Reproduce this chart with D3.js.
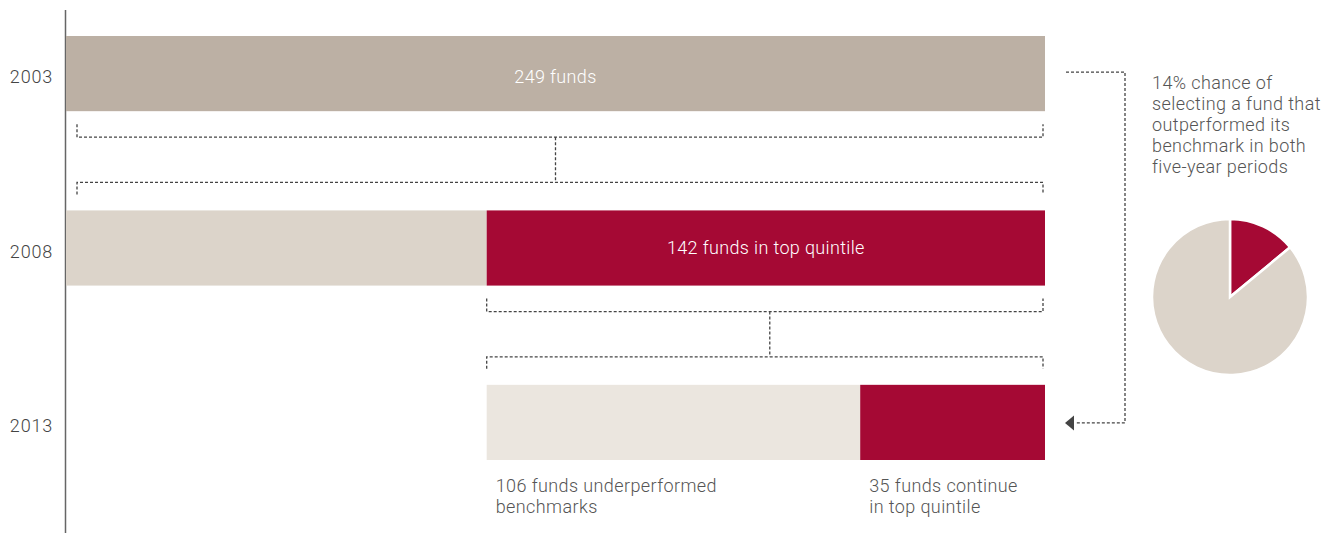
<!doctype html>
<html lang="en">
<head>
<meta charset="UTF-8">
<title>Funds persistence in top quintile</title>
<script src="https://d3js.org/d3.v7.min.js"></script>
<style>
body { margin: 0; background: #fff; font-family: "Roboto", "Helvetica Neue", sans-serif; font-weight: 300; }
svg { display: block; }
.year { font-size: 18px; fill: #444; letter-spacing: 0.8px; }
.note { font-size: 18px; fill: #555; letter-spacing: 0.4px; }
.barlabel { font-size: 18px; fill: #fff; letter-spacing: 0.35px; }
.dots { fill: none; stroke: #444; stroke-width: 1.3; stroke-dasharray: 3 2; }
</style>
</head>
<body>
<div id="plot"></div>
<script>

var width = 1323;
var height = 533;

// data, in fund units along the bar axis
var years = ["2003", "2008", "2013"];
var segYear = ["2003", "2008", "2008", "2013", "2013"];
var segStart = [0, 0, 107, 107, 202];
var segEnd = [249, 107, 249, 202, 249];
var segColor = ["#bcb0a4", "#dcd4ca", "#a50934", "#ebe6df", "#a50934"];
var segText = ["249 funds", "", "142 funds in top quintile", "", ""];

var belowText = [["106 funds underperformed", "benchmarks"], ["35 funds continue", "in top quintile"]];
var belowStart = [107, 202];

var noteLines = ["14% chance of", "selecting a fund that", "outperformed its", "benchmark in both", "five-year periods"];
var pieValues = [14, 86];
var pieColors = ["#a50934", "#dcd4ca"];

var svg = d3.select("#plot").append("svg")
  .attr("width", width)
  .attr("height", height);

var x = d3.scaleLinear().domain([0, 249]).range([66, 1045]);
var y = d3.scaleBand().domain(years).range([36, 460]).paddingInner(0.569).paddingOuter(0);

// axis line
svg.append("line")
  .attr("x1", 65.5).attr("x2", 65.5)
  .attr("y1", 10).attr("y2", height)
  .style("stroke", "#666").style("stroke-width", 1.5);

svg.selectAll("text.year")
  .data(years)
  .enter().append("text")
  .attr("class", "year")
  .attr("x", 53)
  .attr("y", function (d) { return y(d) + y.bandwidth() / 2 + 3.5; })
  .attr("dy", "0.35em")
  .attr("text-anchor", "end")
  .text(function (d) { return d; });

var segs = segYear.map(function (d, i) {
  return { year: d, start: segStart[i], end: segEnd[i], color: segColor[i], text: segText[i] };
});

svg.selectAll("rect.seg")
  .data(segs)
  .enter().append("rect")
  .attr("class", "seg")
  .attr("x", function (d) { return x(d.start); })
  .attr("y", function (d) { return y(d.year); })
  .attr("width", function (d) { return x(d.end) - x(d.start); })
  .attr("height", y.bandwidth())
  .style("fill", function (d) { return d.color; });

svg.selectAll("text.barlabel")
  .data(segs.filter(function (d) { return d.text; }))
  .enter().append("text")
  .attr("class", "barlabel")
  .attr("x", function (d) { return (x(d.start) + x(d.end)) / 2; })
  .attr("y", function (d, i) { return y(d.year) + y.bandwidth() / 2 + (i === 0 ? 3 : 0); })
  .attr("dy", "0.35em")
  .attr("text-anchor", "middle")
  .text(function (d) { return d.text; });

// dotted brackets between bars
function bracket(x0, x1, xm, yTop, yBottom) {
  var y1 = yTop + 26;
  var y2 = yBottom - 28;
  var p = d3.path();
  p.moveTo(x0, yTop + 13); p.lineTo(x0, y1); p.lineTo(x1, y1); p.lineTo(x1, yTop + 13);
  p.moveTo(xm, y1); p.lineTo(xm, y2);
  p.moveTo(x0, yBottom - 16); p.lineTo(x0, y2); p.lineTo(x1, y2); p.lineTo(x1, yBottom - 16);
  svg.append("path").attr("class", "dots").attr("d", p.toString());
}
bracket(x(0) + 11, x(249) - 2, x(124.5), y("2003") + y.bandwidth(), y("2008"));
bracket(x(107), x(249) - 2, x(179), y("2008") + y.bandwidth(), y("2013"));

// connector from 2003 to 2013
var cy0 = y("2003") + y.bandwidth() / 2 - 1.5;
var cy1 = y("2013") + y.bandwidth() / 2 + 0.5;
var tipX = x(249) + 20;
svg.append("path")
  .attr("class", "dots")
  .attr("d", "M" + (x(249) + 21) + "," + cy0 + "H1125V" + cy1 + "H" + (tipX + 10));
var tri = d3.path();
tri.moveTo(tipX, cy1);
tri.lineTo(tipX + 9, cy1 - 7.5);
tri.lineTo(tipX + 9, cy1 + 7.5);
tri.closePath();
svg.append("path")
  .attr("d", tri.toString())
  .style("fill", "#444");

// labels under 2013 bar
belowText.forEach(function (lines, i) {
  var t = svg.append("text")
    .attr("class", "note")
    .attr("x", x(belowStart[i]) + 9)
    .attr("y", y("2013") + y.bandwidth() + 32);
  lines.forEach(function (l, j) {
    t.append("tspan").attr("x", x(belowStart[i]) + 9).attr("dy", j ? 21 : 0).text(l);
  });
});

// note on the right
var note = svg.append("text").attr("class", "note").attr("x", 1152).attr("y", 89);
noteLines.forEach(function (l, j) {
  note.append("tspan").attr("x", 1152).attr("dy", j ? 21 : 0).text(l);
});

// pie
var pie = d3.pie().sort(null)(pieValues);
var arc = d3.arc().innerRadius(0).outerRadius(78);
svg.append("g")
  .attr("transform", "translate(1230,297)")
  .selectAll("path")
  .data(pie)
  .enter().append("path")
  .attr("d", arc)
  .style("fill", function (d, i) { return pieColors[i]; })
  .style("stroke", "#fff")
  .style("stroke-width", 2.5);

</script>
</body>
</html>
